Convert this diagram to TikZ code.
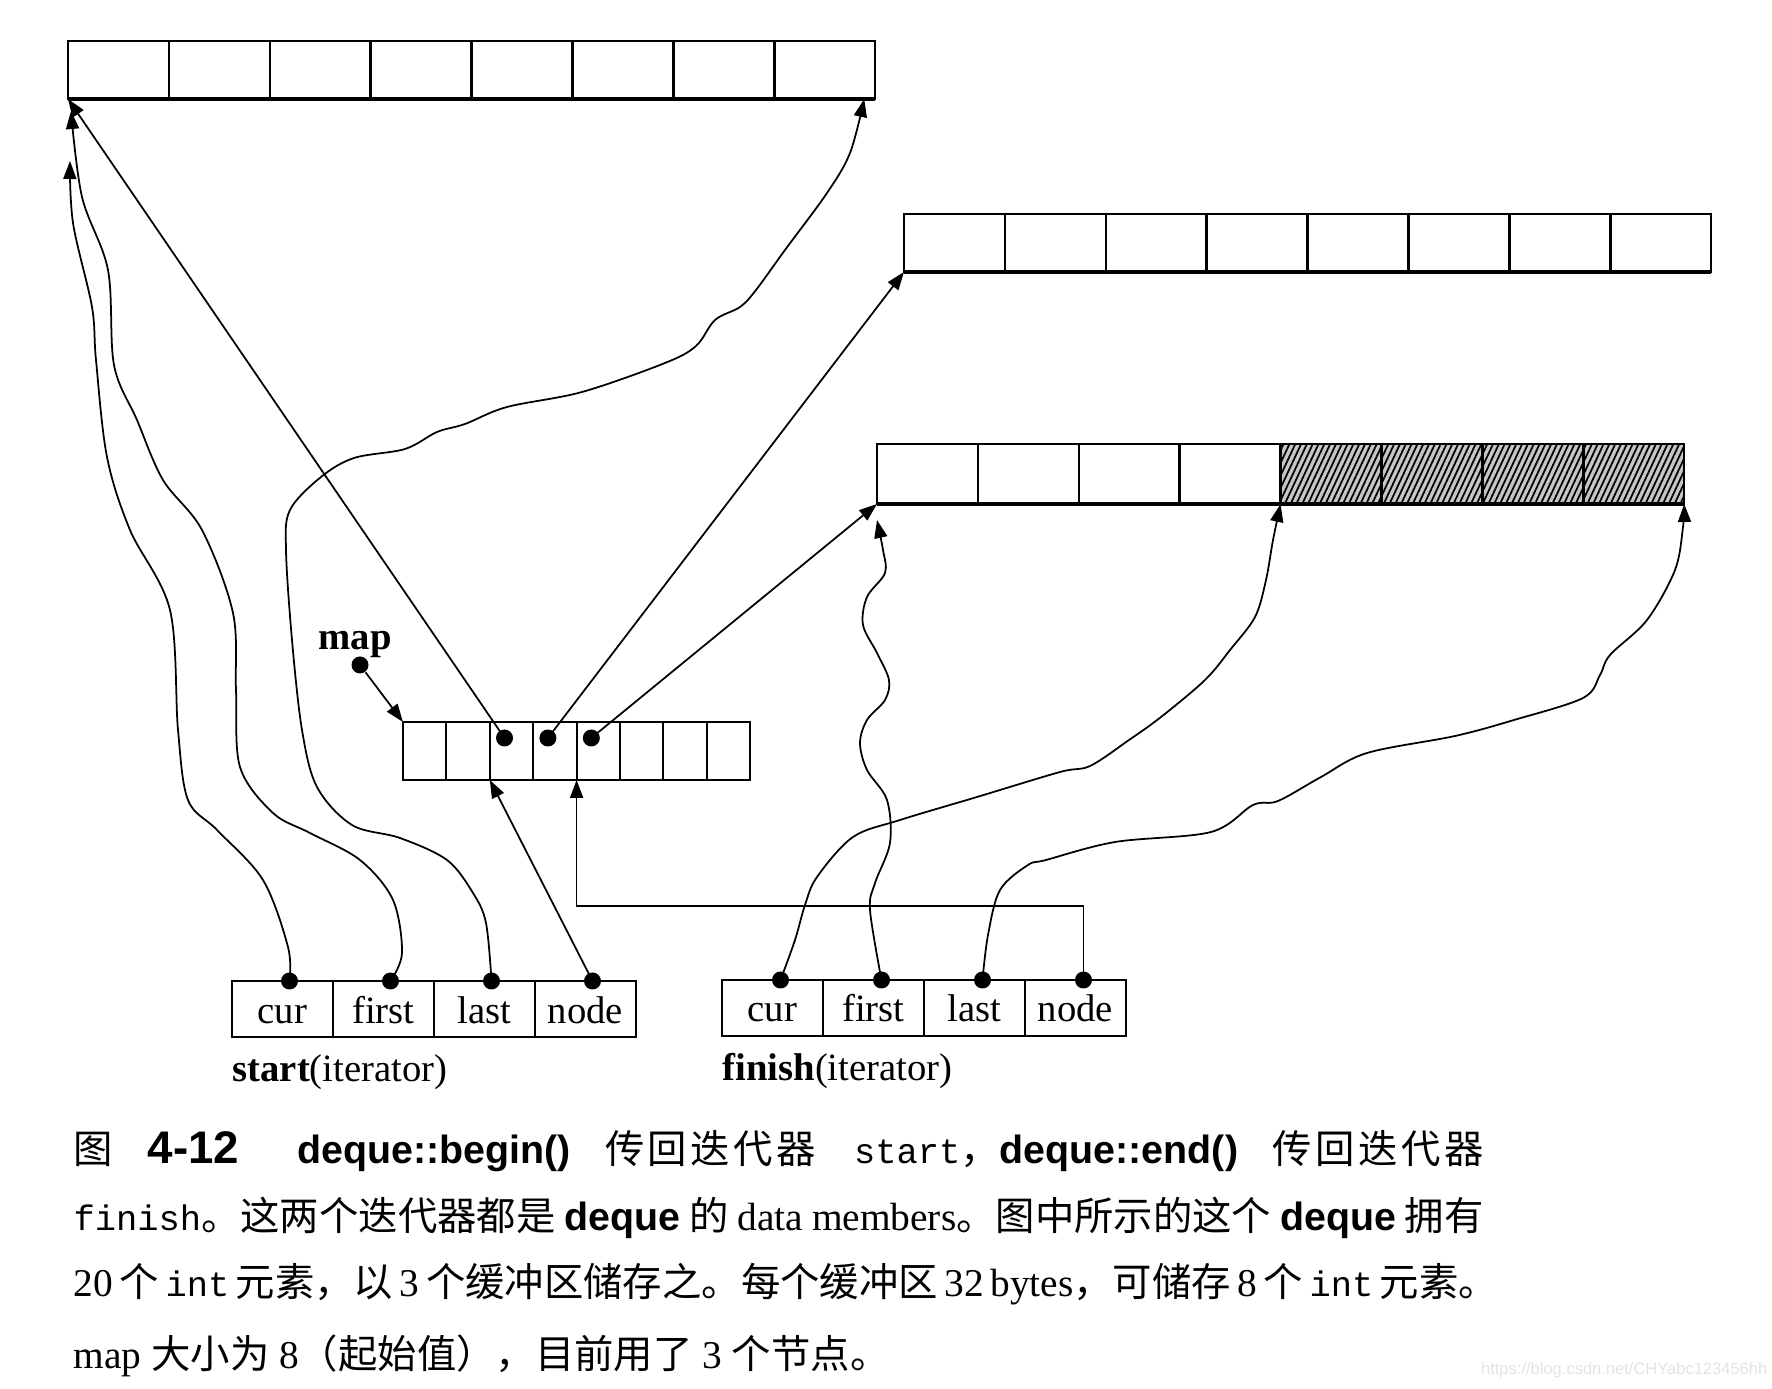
\documentclass[tikz,border=0pt]{standalone}
\usepackage{fontspec}
\setmainfont{Liberation Serif}
\setsansfont{Liberation Sans}
\setmonofont[Scale=0.9]{Liberation Mono}
\newfontfamily\cjk{Noto Sans CJK SC}
\newfontfamily\cjkwide[LetterSpace=9]{Noto Sans CJK SC}
\newcommand\zh[1]{{\cjk #1}}
\newcommand\zhw[1]{{\cjkwide #1}}
\newcommand\sfb[1]{{\sffamily\bfseries #1}}
\usepackage{tikz}
\usetikzlibrary{arrows.meta, positioning, calc, patterns.meta}

\begin{document}
\begin{tikzpicture}[
    cell/.style={draw, line width=0.7pt, minimum width=1.009cm, minimum height=0.58cm,
        inner sep=0pt, outer sep=0pt, anchor=south west},
    mapcell/.style={cell, line width=0.6pt, minimum width=0.434cm},
    itcell/.style={cell, minimum width=1.01cm, minimum height=0.56cm,
        text height=0.32cm, text depth=0.04cm, font=\fontsize{11}{13}\selectfont},
    hatch/.style={preaction={fill=gray!45},
        pattern={Lines[angle=65, distance=1.5pt, line width=0.5pt]}},
    dot/.style={circle, fill, inner sep=0pt, minimum size=0.17cm},
    ptr/.style={->, line width=0.5pt},
    bufbase/.style={line width=1.1pt},
    lab/.style={font=\fontsize{11}{13}\selectfont, inner sep=0pt},
    capline/.style={anchor=base west, inner sep=0pt, font=\fontsize{11.2}{13}\selectfont},
    >={Triangle[length=1.8mm, width=1.3mm]}
  ]
  \useasboundingbox (0,0) rectangle (17.72,13.88);

  % three buffers, 8 ints each; the third holds only 4 so far
  \foreach \i in {0,...,7}
    \node[cell] (b1c\i) at (0.68+1.009*\i, 12.89) {};
  \foreach \i in {0,...,7}
    \node[cell] (b2c\i) at (9.04+1.009*\i, 11.16) {};
  \foreach \i in {0,...,3}
    \node[cell, minimum height=0.6cm] (b3c\i) at (8.77+1.009*\i, 8.84) {};
  \foreach \i in {4,...,7}
    \node[cell, minimum height=0.6cm, hatch] (b3c\i) at (8.77+1.009*\i, 8.84) {};
  \draw[bufbase] (b1c0.south west) -- (b1c7.south east);
  \draw[bufbase] (b2c0.south west) -- (b2c7.south east);
  \draw[bufbase] (b3c0.south west) -- (b3c7.south east);

  % the map, 8 node slots, 3 in use
  \foreach \i in {0,...,7}
    \node[mapcell] (m\i) at (4.03+0.434*\i, 6.08) {};
  \node[lab, font=\bfseries\fontsize{11}{13}\selectfont] (maplab) at (3.55,7.43) {map};
  \node[dot] (mapdot) at (3.60,7.23) {};
  \foreach \i in {2,3,4}
    \node[dot] (md\i) at ([xshift=-0.07cm, yshift=0.13cm]m\i.center) {};

  % the two iterators
  \foreach \fld [count=\i from 0] in {cur,first,last,node}
    \node[itcell] (s\i) at (2.32+1.01*\i, 3.51) {\fld};
  \foreach \fld [count=\i from 0] in {cur,first,last,node}
    \node[itcell] (f\i) at (7.22+1.01*\i, 3.52) {\fld};
  \node[lab, anchor=north west] (startlab) at ([yshift=-0.17cm]s0.south west)
    {\textbf{start}(iterator)};
  \node[lab, anchor=north west] (finishlab) at ([yshift=-0.17cm]f0.south west)
    {\textbf{finish}(iterator)};
  \foreach \i in {0,...,3} {
    \node[dot] (sd\i) at ([xshift=0.07cm]s\i.north) {};
    \node[dot] (fd\i) at ([xshift=0.08cm]f\i.north) {};
  }

  % map slots -> buffers
  \draw[ptr] (mapdot) -- (m0.north west);
  \draw[ptr] (md2.center) -- (b1c0.south west);
  \draw[ptr] (md3.center) -- (b2c0.south west);
  \draw[ptr] (md4.center) -- (b3c0.south west);

  % start
  \coordinate (curtip) at ([xshift=0.02cm, yshift=-0.62cm]b1c0.south west);
  \coordinate (firsttip) at ([xshift=0.03cm, yshift=-0.12cm]b1c0.south west);
  \coordinate (lasttip) at ([xshift=-0.11cm]b1c7.south east);
  \draw[ptr] plot[smooth, tension=0.55] coordinates {(sd0.center) (2.88,4.41)
    (2.63,5.08) (2.17,5.58) (1.88,5.88) (1.78,6.58) (1.70,7.78) (1.30,8.58)
    (1.07,9.31) (0.96,10.28) (0.92,10.81) (0.73,11.65) (curtip)};
  \draw[ptr] plot[smooth, tension=0.55] coordinates {(sd1.center) (4.02,4.35)
    (3.93,4.88) (3.60,5.28) (3.10,5.55) (2.73,5.75) (2.40,6.21) (2.36,6.98)
    (2.33,7.75) (2.02,8.58) (1.63,9.08) (1.37,9.68) (1.14,10.23) (1.08,11.18)
    (0.82,11.91) (firsttip)};
  \draw[ptr] plot[smooth, tension=0.55] coordinates {(sd2.center) (4.86,4.65)
    (4.73,4.95) (4.47,5.28) (4.00,5.50) (3.52,5.63) (3.17,6.01) (3.02,6.58)
    (2.92,7.48) (2.86,8.38) (2.90,8.78) (3.21,9.11) (3.54,9.30) (4.05,9.39)
    (4.37,9.56) (4.65,9.64) (5.07,9.81) (5.82,9.96) (6.65,10.25) (6.96,10.42)
    (7.15,10.68) (7.40,10.81) (7.56,10.98) (7.85,11.38) (8.27,11.95) (8.50,12.35)
    (lasttip)};
  \draw[ptr] (sd3.center) -- (m2.south west);

  % finish
  \coordinate (ffirsttip) at ([yshift=-0.16cm]b3c0.south west);
  \coordinate (fbend) at ($(m4.south west)+(0,-1.26)$);
  \draw[ptr] plot[smooth, tension=0.55] coordinates {(fd0.center) (7.95,4.48)
    (8.05,4.83) (8.17,5.11) (8.53,5.51) (9.00,5.68) (9.77,5.91) (10.60,6.16)
    (10.90,6.22) (11.29,6.48) (11.61,6.71) (12.05,7.08) (12.30,7.38) (12.55,7.71)
    (12.66,8.08) (12.73,8.48) (b3c4.south west)};
  \draw[ptr] plot[smooth, tension=0.55] coordinates {(fd1.center) (8.70,4.78)
    (8.75,5.05) (8.90,5.45) (8.87,5.88) (8.67,6.18) (8.60,6.45) (8.67,6.68)
    (8.85,6.88) (8.89,7.08) (8.77,7.35) (8.63,7.63) (8.67,7.91) (8.85,8.15)
    (8.83,8.38) (ffirsttip)};
  \draw[ptr] plot[smooth, tension=0.55] coordinates {(fd2.center) (9.88,4.53)
    (10.00,4.98) (10.28,5.23) (10.46,5.28) (11.15,5.46) (12.11,5.56) (12.53,5.83)
    (12.78,5.87) (13.21,6.11) (13.67,6.35) (14.55,6.52) (15.14,6.68) (15.83,6.90)
    (16.00,7.13) (16.10,7.33) (16.47,7.68) (16.75,8.18) (16.83,8.61)
    (b3c7.south east)};
  \draw[ptr] (fd3.center) |- (fbend) -- (m4.south west);

  % caption
  \node[capline] (cap1) at (0.73,2.24) {\makebox[14.1cm][s]{\zh{图}
    {\sffamily\bfseries\fontsize{13}{13}\selectfont 4-12}\hspace{0.6em}
    \sfb{deque::begin()} \zhw{传回迭代器} \texttt{start}\zh{，}\sfb{deque::end()}
    \zhw{传回迭代器}}};
  \node[capline] (cap2) at (0.73,1.57) {\makebox[14.1cm][s]{\texttt{finish}\zh{。这两个迭代器都是}
    \sfb{deque} \zh{的} data members\zh{。图中所示的这个} \sfb{deque} \zh{拥有}}};
  \node[capline] (cap3) at (0.73,0.91) {\makebox[14.1cm][s]{20 \zh{个} \texttt{int}
    \zh{元素，以} 3 \zh{个缓冲区储存之。每个缓冲区} 32 bytes\zh{，可储存} 8 \zh{个}
    \texttt{int} \zh{元素。}}};
  \node[capline] (cap4) at (0.73,0.20) {map \zh{大小为} 8\zh{（起始值），目前用了} 3
    \zh{个节点。}};
  \node[anchor=east, inner sep=0pt, text=gray!22,
    font=\sffamily\fontsize{4.7}{5}\selectfont] (wmark) at (17.68,0.18)
    {https://blog.csdn.net/CHYabc123456hh};
\end{tikzpicture}
\end{document}
